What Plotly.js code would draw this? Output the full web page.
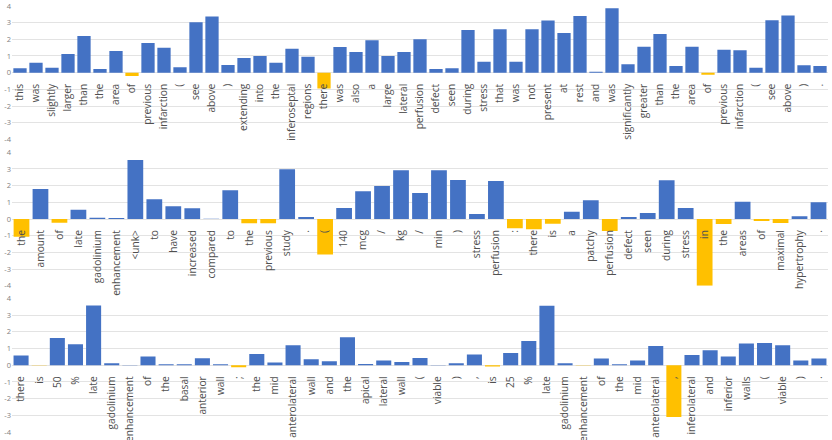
<!DOCTYPE html>
<html>
<head>
<meta charset="utf-8">
<script src="https://cdn.plot.ly/plotly-3.0.1.min.js"></script>
<style>html,body{margin:0;padding:0;background:#fff;}#chart{width:832px;height:440px;}</style>
</head>
<body>
<div id="chart"></div>
<script>
const words1 = ["this","was","slightly","larger","than","the","area","of","previous","infarction","(","see","above",")","extending","into","the","inferoseptal","regions","there","was","also","a","large","lateral","perfusion","defect","seen","during","stress","that","was","not","present","at","rest","and","was","significantly","greater","than","the","area","of","previous","infarction","(","see","above",")","."];
const vals1 = [0.27,0.6,0.3,1.12,2.2,0.22,1.3,-0.2,1.78,1.5,0.32,3.02,3.36,0.46,0.88,1.0,0.6,1.44,0.96,-0.95,1.54,1.24,1.94,1.0,1.24,2.0,0.22,0.26,2.56,0.66,2.6,0.66,2.6,3.12,2.38,3.4,0.06,3.86,0.5,1.56,2.32,0.4,1.56,-0.12,1.38,1.34,0.3,3.14,3.42,0.44,0.4];

const words2 = ["the","amount","of","late","gadolinium","enhancement","<unk>","to","have","increased","compared","to","the","previous","study",".","(","140","mcg","/","kg","/","min",")","stress","perfusion",":","there","is","a","patchy","perfusion","defect","seen","during","stress","in","the","areas","of","maximal","hypertrophy","."];
const vals2 = [-1.06,1.8,-0.22,0.56,0.08,0.06,3.54,1.18,0.76,0.64,0.01,1.72,-0.26,-0.26,2.98,0.12,-2.12,0.66,1.66,1.98,2.92,1.56,2.92,2.34,0.3,2.28,-0.56,-0.62,-0.28,0.44,1.12,-0.72,0.12,0.36,2.32,0.66,-4.0,-0.3,1.04,-0.12,-0.24,0.16,1.0];

const words3 = ["there","is","50","%","late","gadolinium","enhancement","of","the","basal","anterior","wall",";","the","mid","anterolateral","wall","and","the","apical","lateral","wall","(","viable",")",",","is","25","%","late","gadolinium","enhancement","of","the","mid","anterolateral",",","inferolateral","and","inferior","walls","(","viable",")","."];
const vals3 = [0.58,-0.02,1.64,1.26,3.58,0.12,0.01,0.52,0.06,0.06,0.42,0.06,-0.12,0.68,0.16,1.2,0.36,0.24,1.68,0.08,0.28,0.2,0.44,0.02,0.12,0.64,-0.08,0.74,1.46,3.56,0.12,-0.02,0.4,0.06,0.28,1.16,-3.1,0.62,0.9,0.52,1.3,1.34,1.2,0.28,0.4];

const yTicks = [-4,-3,-2,-1,0,1,2,3,4];

const BLUE = "#4472C4", YELLOW = "#FFC000";
const panels = [
  {w: words1, v: vals1, dom: [0.683, 0.9866]},
  {w: words2, v: vals2, dom: [0.3505, 0.654]},
  {w: words3, v: vals3, dom: [0.0182, 0.3216]}
];

const data = [];
const layout = {
  width: 832, height: 440,
  margin: {l: 12, r: 4, t: 0, b: 0},
  paper_bgcolor: "#fff", plot_bgcolor: "#fff",
  showlegend: false,
  bargap: 0.17,
  font: {family: "Open Sans, sans-serif"}
};

panels.forEach((p, i) => {
  const s = i === 0 ? "" : String(i + 1);
  const idx = p.w.map((_, j) => j);
  data.push({
    type: "bar",
    x: idx, y: p.v,
    xaxis: "x" + s, yaxis: "y" + s,
    marker: {color: p.v.map(v => v < 0 ? YELLOW : BLUE), line: {width: 0}},
    hoverinfo: "none"
  });
  layout["xaxis" + s] = {
    domain: [0, 1], anchor: "free", position: (p.dom[0] + p.dom[1]) / 2,
    range: [-0.5, p.w.length - 0.5],
    tickmode: "array", tickvals: idx, ticktext: p.w,
    tickangle: -90, showgrid: false, zeroline: false, showline: false,
    ticks: "outside", ticklen: 6, tickcolor: "rgba(0,0,0,0)",
    tickfont: {size: 10.2, color: "#505050", family: "Open Sans, sans-serif"},
    automargin: false, fixedrange: true
  };
  layout["yaxis" + s] = {
    domain: p.dom, anchor: "x" + s, range: [-4, 4],
    tickmode: "array", tickvals: yTicks, ticktext: yTicks.map(String),
    showgrid: true, gridcolor: "#e3e3e3", gridwidth: 1,
    zeroline: false, showline: false, ticks: "",
    tickfont: {size: 7.5, color: "#7f7f7f"},
    automargin: false, fixedrange: true
  };
});

Plotly.newPlot("chart", data, layout, {displayModeBar: false, staticPlot: true});
</script>
</body>
</html>
